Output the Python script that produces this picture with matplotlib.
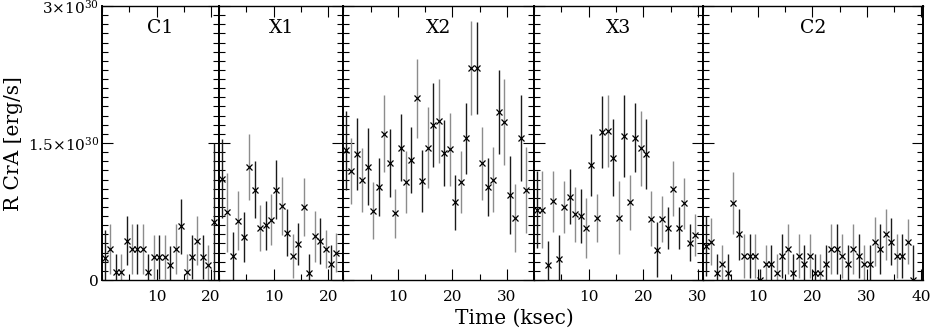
"""
R CrA X-ray light curves: quiescent (C1, C2) and flare (X1-X3) segments,
1 ksec bins, drawn as five joined panels sharing the luminosity axis.
"""

import matplotlib
matplotlib.use("Agg")
import matplotlib.pyplot as plt
from matplotlib.ticker import FixedLocator, MultipleLocator

plt.rcParams["font.family"] = "DejaVu Serif"
plt.rcParams["mathtext.fontset"] = "dejavuserif"

# Luminosity in units of 1e30 erg/s, time in ksec from segment start.
C1_T = [0.5, 1.5, 2.5, 3.5, 4.5, 5.5, 6.5, 7.5, 8.5, 9.5, 10.5, 11.5, 12.5,
        13.5, 14.5, 15.5, 16.5, 17.5, 18.5, 19.5, 20.5]
C1_L = [0.24, 0.34, 0.09, 0.09, 0.43, 0.34, 0.34, 0.34, 0.09, 0.25, 0.25,
        0.25, 0.16, 0.34, 0.59, 0.09, 0.25, 0.43, 0.25, 0.16, 0.64]
C1_E = [0.31, 0.27, 0.19, 0.19, 0.27, 0.27, 0.27, 0.27, 0.19, 0.24, 0.24,
        0.24, 0.21, 0.27, 0.30, 0.19, 0.24, 0.27, 0.24, 0.22, 0.86]

X1_T = [0.5, 1.5, 2.5, 3.5, 4.5, 5.5, 6.5, 7.5, 8.5, 9.5, 10.5, 11.5, 12.5,
        13.5, 14.5, 15.5, 16.5, 17.5, 18.5, 19.5, 20.5, 21.5]
X1_L = [1.11, 0.74, 0.26, 0.65, 0.47, 1.24, 0.99, 0.57, 0.60, 0.66, 0.99,
        0.81, 0.52, 0.26, 0.39, 0.80, 0.08, 0.48, 0.43, 0.34, 0.18, 0.30]
X1_E = [0.43, 0.43, 0.27, 0.32, 0.27, 0.36, 0.31, 0.25, 0.27, 0.28, 0.32,
        0.32, 0.26, 0.24, 0.23, 0.32, 0.21, 0.28, 0.25, 0.21, 0.20, 0.21]

X2_T = [0.5, 1.5, 2.5, 3.5, 4.5, 5.5, 6.5, 7.5, 8.5, 9.5, 10.5, 11.5, 12.5,
        13.5, 14.5, 15.5, 16.5, 17.5, 18.5, 19.5, 20.5, 21.5, 22.5, 23.5,
        24.5, 25.5, 26.5, 27.5, 28.5, 29.5, 30.5, 31.5, 32.5, 33.5]
X2_L = [1.42, 1.19, 1.38, 1.09, 1.24, 0.76, 1.02, 1.60, 1.28, 0.73, 1.45,
        1.07, 1.31, 1.99, 1.08, 1.45, 1.70, 1.74, 1.39, 1.43, 0.85, 1.07,
        1.55, 2.32, 2.32, 1.28, 1.02, 1.10, 1.84, 1.73, 0.93, 0.68, 1.55,
        0.99]
X2_E = [0.43, 0.36, 0.39, 0.35, 0.42, 0.31, 0.32, 0.42, 0.37, 0.27, 0.37,
        0.34, 0.36, 0.43, 0.34, 0.44, 0.46, 0.46, 0.36, 0.40, 0.30, 0.34,
        0.39, 0.51, 0.50, 0.40, 0.32, 0.36, 0.46, 0.47, 0.43, 0.37, 0.47,
        0.47]

X3_T = [0.5, 1.5, 2.5, 3.5, 4.5, 5.5, 6.5, 7.5, 8.5, 9.5, 10.5, 11.5, 12.5,
        13.5, 14.5, 15.5, 16.5, 17.5, 18.5, 19.5, 20.5, 21.5, 22.5, 23.5,
        24.5, 25.5, 26.5, 27.5, 28.5, 29.5]
X3_L = [0.77, 0.77, 0.16, 0.86, 0.23, 0.80, 0.91, 0.72, 0.70, 0.57, 1.26,
        0.68, 1.62, 1.63, 1.34, 0.68, 1.58, 0.85, 1.56, 1.44, 1.38, 0.67,
        0.33, 0.67, 0.57, 1.00, 0.57, 0.84, 0.41, 0.49]
X3_E = [0.42, 0.42, 0.27, 0.33, 0.26, 0.28, 0.30, 0.30, 0.30, 0.33, 0.34,
        0.26, 0.39, 0.39, 0.42, 0.40, 0.45, 0.30, 0.38, 0.41, 0.38, 0.30,
        0.30, 0.25, 0.23, 0.30, 0.23, 0.28, 0.20, 0.23]

C2_T = [0.5, 1.5, 2.5, 3.5, 4.5, 5.5, 6.5, 7.5, 8.5, 9.5, 10.5, 11.5, 12.5,
        13.5, 14.5, 15.5, 16.5, 17.5, 18.5, 19.5, 20.5, 21.5, 22.5, 23.5,
        24.5, 25.5, 26.5, 27.5, 28.5, 29.5, 30.5, 31.5, 32.5, 33.5, 34.5,
        35.5, 36.5, 37.5, 38.5]
C2_L = [0.37, 0.42, 0.08, 0.17, 0.08, 0.84, 0.50, 0.26, 0.26, 0.26, 0.00,
        0.17, 0.17, 0.08, 0.26, 0.34, 0.08, 0.26, 0.17, 0.26, 0.08, 0.08,
        0.17, 0.34, 0.34, 0.26, 0.17, 0.34, 0.26, 0.17, 0.17, 0.42, 0.34,
        0.50, 0.42, 0.26, 0.26, 0.42, 0.00]
C2_E = [0.33, 0.26, 0.20, 0.21, 0.20, 0.34, 0.28, 0.24, 0.24, 0.24, 0.12,
        0.21, 0.21, 0.20, 0.24, 0.27, 0.20, 0.24, 0.21, 0.24, 0.20, 0.20,
        0.21, 0.27, 0.27, 0.24, 0.21, 0.27, 0.24, 0.21, 0.21, 0.27, 0.27,
        0.28, 0.26, 0.24, 0.24, 0.25, 0.38]

NAMES = ["C1", "X1", "X2", "X3", "C2"]
SPANS = [21.5, 22.75, 35.0, 31.0, 40.3]   # visible ksec in each panel
YTICKS = [0, 1.5, 3.0]
YTICKLABELS = ["0", r"$1.5{\times}10^{30}$", r"$3{\times}10^{30}$"]


def draw_panel(ax, name, t, lum, err, span, first):
    # error bars alternate dark / light grey, as in the printed figure
    cols = ["0.1" if i % 2 == 0 else "0.55" for i in range(len(t))]
    lo = [l - e for l, e in zip(lum, err)]
    hi = [l + e for l, e in zip(lum, err)]
    ax.vlines(t, lo, hi, colors=cols, linewidth=1.0)
    ax.plot(t, lum, "x", color="k", markersize=4.5, markeredgewidth=0.9)

    ax.set_xlim(0, span)
    ax.set_ylim(0, 3.0)
    ax.set_xticks([v for v in (10, 20, 30, 40) if v <= span + 0.5])
    ax.xaxis.set_minor_locator(MultipleLocator(5))
    ax.yaxis.set_major_locator(FixedLocator(YTICKS))
    ax.yaxis.set_minor_locator(MultipleLocator(0.1))

    ax.tick_params(which="both", direction="in", top=True, right=True,
                   width=0.8)
    ax.tick_params(which="major", length=8)
    ax.tick_params(which="minor", length=4.5)
    ax.tick_params(axis="x", labelsize=11, pad=7)
    if first:
        ax.set_yticklabels(YTICKLABELS)
        ax.tick_params(axis="y", labelsize=11, pad=2)
    else:
        ax.tick_params(axis="y", labelleft=False)

    for side in ("left", "right"):
        ax.spines[side].set_linewidth(1.4)
    for side in ("top", "bottom"):
        ax.spines[side].set_linewidth(1.0)

    ax.text(0.5, 0.92, name, transform=ax.transAxes, ha="center",
            va="center", fontsize=13.5)


def main():
    data = [(C1_T, C1_L, C1_E), (X1_T, X1_L, X1_E), (X2_T, X2_L, X2_E),
            (X3_T, X3_L, X3_E), (C2_T, C2_L, C2_E)]

    fig, axes = plt.subplots(
        1, 5, figsize=(9.33, 3.31), dpi=100,
        gridspec_kw=dict(width_ratios=SPANS, wspace=0),
    )
    fig.subplots_adjust(left=0.1093, right=0.9893, bottom=0.154, top=0.982)

    for i, (ax, name, (t, lum, err), span) in enumerate(
            zip(axes, NAMES, data, SPANS)):
        draw_panel(ax, name, t, lum, err, span, i == 0)

    fig.text(0.551, 0.039, "Time (ksec)", ha="center", va="center",
             fontsize=14.5)
    fig.text(0.015, 0.567, "R CrA [erg/s]", ha="center", va="center",
             rotation=90, fontsize=14.5)

    fig.savefig("out.png", dpi=100)
    plt.close(fig)


if __name__ == "__main__":
    main()
